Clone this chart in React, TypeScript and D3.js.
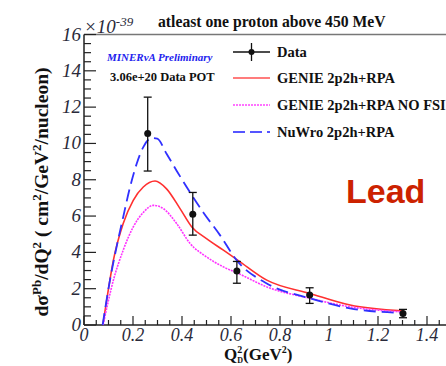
import React from "react";
import * as d3 from "d3";

const dataX = [0.26, 0.444, 0.624, 0.921, 1.302];
const dataY = [10.55, 6.1, 2.97, 1.65, 0.64];
const dataErrHi = [12.55, 7.3, 3.5, 2.05, 0.86];
const dataErrLo = [8.48, 4.95, 2.3, 1.19, 0.4];

const nuwroX = [0.076, 0.106, 0.133, 0.16, 0.188, 0.215, 0.242, 0.276, 0.299, 0.337, 0.378, 0.433, 0.487, 0.555, 0.623, 0.746, 0.922, 1.086, 1.3];
const nuwroY = [0, 2.47, 4.3, 5.95, 7.6, 8.88, 9.8, 10.3, 10.26, 9.43, 8.5, 7.3, 6.2, 4.95, 3.57, 2.29, 1.47, 0.92, 0.66];

const genieX = [0.077, 0.099, 0.12, 0.16, 0.201, 0.242, 0.29, 0.337, 0.392, 0.44, 0.5, 0.569, 0.63, 0.746, 0.922, 1.086, 1.3];
const genieY = [0, 1.92, 3.57, 5.59, 6.87, 7.6, 7.93, 7.5, 6.41, 5.4, 4.76, 4.12, 3.55, 2.47, 1.74, 1.1, 0.78];

const nofsiX = [0.078, 0.12, 0.16, 0.201, 0.242, 0.283, 0.324, 0.378, 0.433, 0.5, 0.569, 0.63, 0.746, 0.922, 1.086, 1.3];
const nofsiY = [0, 2.47, 4.12, 5.4, 6.2, 6.59, 6.41, 5.59, 4.49, 3.75, 3.2, 2.84, 2.1, 1.47, 1.0, 0.72];

const xTicks = [0, 0.2, 0.4, 0.6, 0.8, 1, 1.2, 1.4];
const yTicks = [0, 2, 4, 6, 8, 10, 12, 14, 16];

const legendItems = ["Data", "GENIE 2p2h+RPA", "GENIE 2p2h+RPA NO FSI", "NuWro 2p2h+RPA"];

const serif = "'Liberation Serif', 'DejaVu Serif', serif";
const sans = "'Liberation Sans', Arial, sans-serif";

export default function App() {
  const x = d3.scaleLinear().domain([0, 1.4]).range([84, 427]);
  const y = d3.scaleLinear().domain([0, 16]).range([325, 34.5]);
  const line = (xs: number[], ys: number[]) =>
    d3.line<number>().x((_, i) => x(xs[i])).y((_, i) => y(ys[i])).curve(d3.curveMonotoneX)(xs.map((v) => v)) || "";

  const xMinor = d3.range(0, 1.5001, 0.05);
  const yMinor = d3.range(0, 16.001, 0.5);
  const axisColor = "#222";
  const frameColor = "#777";

  const legendY = [52, 78, 105, 132];

  return (
    <svg width={446} height={366} style={{ position: "absolute", left: 0, top: 0, background: "#fff" }}>
      <rect x={0} y={0} width={446} height={366} fill="#fff" />
      {/* frame */}
      <line x1={84} x2={446} y1={y(16)} y2={y(16)} stroke={frameColor} strokeWidth={1.5} />
      <line x1={84} x2={84} y1={y(0)} y2={y(16)} stroke={axisColor} strokeWidth={1.5} />
      <line x1={84} x2={446} y1={y(0)} y2={y(0)} stroke={axisColor} strokeWidth={1.5} />
      {/* y ticks */}
      {yMinor.map((v, i) => {
        const major = Math.abs(v / 2 - Math.round(v / 2)) < 1e-6;
        return <line key={"ym" + i} x1={84} x2={84 + (major ? 12 : 7)} y1={y(v)} y2={y(v)} stroke={axisColor} strokeWidth={1.2} />;
      })}
      {/* x ticks */}
      {xMinor.map((v, i) => {
        const major = Math.abs(v / 0.2 - Math.round(v / 0.2)) < 1e-6;
        return <line key={"xm" + i} x1={x(v)} x2={x(v)} y1={y(0)} y2={y(0) - (major ? 9 : 5)} stroke={axisColor} strokeWidth={1.2} />;
      })}
      {/* y tick labels */}
      {yTicks.map((v) => (
        <text key={"yl" + v} x={81} y={y(v) + 6} textAnchor="end" fontFamily={serif} fontStyle="italic" fontSize={19} fill="#2a2a3a">
          {v}
        </text>
      ))}
      {/* x tick labels */}
      {xTicks.map((v) => (
        <text key={"xl" + v} x={x(v)} y={341} textAnchor="middle" fontFamily={serif} fontStyle="italic" fontSize={18} fill="#2a2a3a">
          {v}
        </text>
      ))}
      {/* exponent */}
      <text x={84} y={33} fontFamily={serif} fontStyle="italic" fontSize={19} fill="#2a2a3a">
        ×10<tspan fontSize={13} dy={-7}>-39</tspan>
      </text>
      {/* title */}
      <text x={158} y={27} fontFamily={serif} fontWeight="bold" fontSize={15.7} fill="#111">
        atleast one proton above 450 MeV
      </text>
      {/* curves */}
      <path d={line(genieX, genieY)} fill="none" stroke="#ff3030" strokeWidth={1.6} />
      <path d={line(nofsiX, nofsiY)} fill="none" stroke="#ff33ff" strokeWidth={1.6} strokeDasharray="2,1" />
      <path d={line(nuwroX, nuwroY)} fill="none" stroke="#3030ff" strokeWidth={1.8} strokeDasharray="12,6" />
      {/* data */}
      {dataX.map((v, i) => (
        <g key={"d" + i} stroke="#111" strokeWidth={1.3}>
          <line x1={x(v)} x2={x(v)} y1={y(dataErrHi[i])} y2={y(dataErrLo[i])} />
          <line x1={x(v) - 4} x2={x(v) + 4} y1={y(dataErrHi[i])} y2={y(dataErrHi[i])} />
          <line x1={x(v) - 4} x2={x(v) + 4} y1={y(dataErrLo[i])} y2={y(dataErrLo[i])} />
          <circle cx={x(v)} cy={y(dataY[i])} r={3.5} fill="#111" stroke="none" />
        </g>
      ))}
      {/* legend */}
      <g>
        <line x1={233} x2={270} y1={legendY[0]} y2={legendY[0]} stroke="#111" strokeWidth={1.3} />
        <line x1={251.5} x2={251.5} y1={legendY[0] - 9} y2={legendY[0] + 9} stroke="#111" strokeWidth={1.3} />
        <circle cx={251.5} cy={legendY[0]} r={3} fill="#111" />
        <line x1={233} x2={270} y1={legendY[1]} y2={legendY[1]} stroke="#ff5050" strokeWidth={1.5} />
        <line x1={233} x2={270} y1={legendY[2]} y2={legendY[2]} stroke="#ff44ff" strokeWidth={1.5} strokeDasharray="2,1" />
        <line x1={233} x2={270} y1={legendY[3]} y2={legendY[3]} stroke="#5555ff" strokeWidth={1.8} strokeDasharray="12,5" />
        {legendItems.map((t, i) => (
          <text key={t} x={277} y={legendY[i] + 5} fontFamily={serif} fontWeight="bold" fontSize={14.5} fill="#111">
            {t}
          </text>
        ))}
      </g>
      {/* annotations */}
      <text x={107} y={61} fontFamily={serif} fontStyle="italic" fontWeight="bold" fontSize={11} fill="#2222ee">
        MINERvA Preliminary
      </text>
      <text x={110} y={81} fontFamily={serif} fontWeight="bold" fontSize={12.5} fill="#111">
        3.06e+20 Data POT
      </text>
      <text x={346} y={203} fontFamily={sans} fontWeight="bold" fontSize={34} fill="#cc2200">
        Lead
      </text>
      {/* axis titles */}
      <text transform="translate(48,192) rotate(-90)" textAnchor="middle" fontFamily={serif} fontWeight="bold" fontSize={19.5} fill="#111">
        dσ<tspan fontSize={13} dy={-7}>Pb</tspan>
        <tspan dy={7}>/dQ</tspan>
        <tspan fontSize={13} dy={-7}>2</tspan>
        <tspan dy={7}> ( cm</tspan>
        <tspan fontSize={13} dy={-7}>2</tspan>
        <tspan dy={7}>/GeV</tspan>
        <tspan fontSize={13} dy={-7}>2</tspan>
        <tspan dy={7}>/nucleon)</tspan>
      </text>
      <text x={224} y={360} fontFamily={serif} fontWeight="bold" fontSize={17} fill="#111">
        Q<tspan fontSize={10} dy={-7}>2</tspan>
        <tspan fontSize={8} dx={-5} dy={10}>D</tspan>
        <tspan dy={-3}>(GeV</tspan>
        <tspan fontSize={10} dy={-7}>2</tspan>
        <tspan dy={7}>)</tspan>
      </text>
    </svg>
  );
}
